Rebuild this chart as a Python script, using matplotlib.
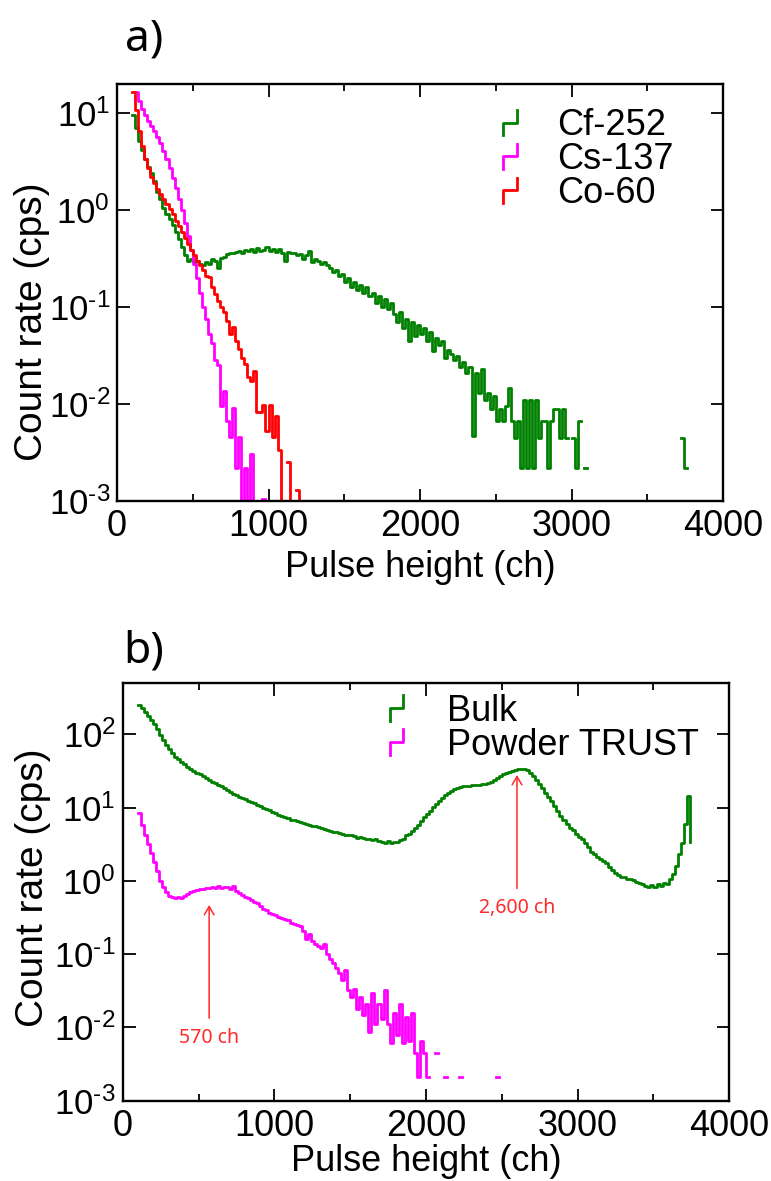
import numpy as np
import matplotlib
matplotlib.use('Agg')
import matplotlib.pyplot as plt
from matplotlib.lines import Line2D
from matplotlib.legend_handler import HandlerBase
from matplotlib.ticker import MultipleLocator, FuncFormatter, NullLocator, LogLocator

nan = np.nan

# ---------------- data (count rate in cps, 20-channel bins) ----------------
BIN = 20

# panel a
cf_start = 100
cf_rate = [9.6, 7.0, 5.2, 4.2, 3.4, 2.8, 2.4, 2.0, 1.55, 1.3,
           1.05, 0.92, 0.80, 0.70, 0.60, 0.50, 0.42, 0.34, 0.30, 0.31,
           0.29, 0.30, 0.28, 0.27, 0.29, 0.28, 0.31, 0.30, 0.25, 0.32,
           0.33, 0.35, 0.36, 0.36, 0.37, 0.38, 0.36, 0.39, 0.38, 0.40,
           0.37, 0.41, 0.38, 0.39, 0.42, 0.38, 0.40, 0.37, 0.40, 0.36,
           0.30, 0.37, 0.36, 0.36, 0.34, 0.35, 0.31, 0.34, 0.38, 0.29,
           0.31, 0.30, 0.28, 0.29, 0.27, 0.25, 0.23, 0.24, 0.21, 0.22,
           0.18, 0.20, 0.16, 0.18, 0.15, 0.17, 0.14, 0.16, 0.13, 0.14,
           0.11, 0.13, 0.10, 0.12, 0.095, 0.11, 0.085, 0.07, 0.088, 0.06,
           0.075, 0.045, 0.07, 0.05, 0.065, 0.052, 0.06, 0.045, 0.055, 0.035,
           0.048, 0.04, 0.045, 0.03, 0.036,
           0.033, 0.028, 0.031, 0.024, 0.027, 0.021, 0.024, 0.0046, 0.021, 0.013,
           0.023, 0.011, 0.013, 0.0088, 0.012, 0.0066, 0.0088, 0.0066, 0.0095, 0.0146,
           0.0066, 0.0044, 0.0066, 0.0022, 0.011, 0.0022, 0.011, 0.0022, 0.011, 0.0044,
           0.0066, 0.0066, 0.0022, 0.0066, 0.0088, 0.0088, 0.0044, 0.0088, 0.0044, nan,
           0.0044, 0.0022, 0.0066, nan, 0.0022]
cf_rate += [nan] * 31 + [0.0044, 0.0022, nan]

cs_start = 120
cs_rate = [16.5, 13.5, 11.0, 9.5, 8.4, 7.4, 6.6, 5.7, 4.9, 4.1,
           3.4, 2.7, 2.15, 1.7, 1.3, 1.0, 0.74, 0.54, 0.39, 0.28,
           0.20, 0.14, 0.10, 0.075, 0.052, 0.042, 0.028, 0.025, 0.0095, 0.0135,
           0.0066, 0.0045, 0.009, 0.0022, 0.0045, 0.0007, 0.0022, 0.0007, 0.003, 0.0007,
           nan, nan, 0.00105, nan]

co_start = 100
co_rate = [16.7, 10.8, 6.5, 4.6, 3.4, 2.7, 2.2, 1.9, 1.65, 1.45,
           1.3, 1.15, 1.02, 0.9, 0.78, 0.68, 0.6, 0.52, 0.45, 0.39,
           0.34, 0.30, 0.27, 0.24, 0.21, 0.205, 0.16, 0.135, 0.115, 0.10,
           0.088, 0.072, 0.052, 0.062, 0.045, 0.037, 0.03, 0.026, 0.019, 0.017,
           0.022, 0.0083, 0.0083, 0.0098, 0.0052, 0.0098, 0.0045, 0.0075, 0.0033, 0.0007,
           nan, 0.0025, 0.0007, nan, 0.0013, 0.0007, nan]

# panel b
bulk_start = 100
bulk_rate = [255, 230, 205, 180, 157, 138, 118, 98, 85, 73,
             64, 56, 50, 46, 42, 39, 36, 34, 32, 30,
             28.5, 27, 25.5, 24, 22.5, 21.5, 20.4, 19.5, 18.5, 17.5,
             16.5, 15.3, 14.8, 14.0, 13.5, 13.0, 12.4, 12.1, 11.5, 11.0,
             10.5, 10.0, 9.5, 9.2, 8.8, 8.4, 8.0, 7.7, 7.5, 7.2,
             6.9, 6.8, 6.5, 6.4, 6.2, 6.0, 5.9, 5.7, 5.6, 5.5,
             5.3, 5.1, 5.0, 4.8, 4.7, 4.6, 4.5, 4.4, 4.3, 4.25,
             4.2, 4.1, 3.9, 4.0, 3.85, 3.8, 3.75, 3.6, 3.7, 3.5,
             3.45, 3.35, 3.5, 3.3, 3.45, 3.4, 3.6, 3.8, 4.2, 4.4,
             4.8, 5.3, 5.9, 6.6, 7.4, 8.2, 9.1, 10.1, 11.2, 12.3,
             13.5, 14.8, 15.9, 16.8, 17.8, 18.5, 19.2, 19.5, 19.8, 20.0,
             20.3, 20.5, 20.7, 20.9, 21.2, 21.6, 22.5, 24.0, 25.5, 27.2,
             28.5, 29.8, 31.0, 32.0, 33.0, 33.5, 33.8, 33.6, 32.5, 30.0,
             27.0, 24.0, 21.0, 18.5, 16.0, 14.0, 12.3, 10.5, 9.0, 7.8,
             6.9, 6.0, 5.3, 4.9, 4.4, 4.0, 3.7, 3.3, 2.9, 2.5,
             2.3, 2.1, 2.0, 1.85, 1.75, 1.55, 1.4, 1.28, 1.22, 1.15,
             1.12, 1.08, 1.05, 1.02, 0.98, 0.95, 0.90, 0.86, 0.82, 0.88,
             0.84, 0.92, 0.86, 0.95, 0.90, 1.05, 1.25, 1.6, 2.3, 3.3,
             6.0, 14.5, 3.4]

powder_start = 100
powder_rate = [8.4, 5.8, 4.3, 3.2, 2.4, 1.8, 1.35, 1.0, 0.82, 0.70,
               0.62, 0.60, 0.58, 0.61, 0.58, 0.63, 0.66, 0.70, 0.73, 0.76,
               0.78, 0.77, 0.80, 0.79, 0.83, 0.80, 0.86, 0.80, 0.84, 0.82,
               0.78, 0.86, 0.72, 0.68, 0.64, 0.60, 0.58, 0.55, 0.52, 0.50,
               0.46, 0.42, 0.40, 0.37, 0.35, 0.34, 0.32, 0.31, 0.30, 0.29,
               0.27, 0.26, 0.25, 0.24, 0.21, 0.16, 0.19, 0.15, 0.14, 0.13,
               0.12, 0.14, 0.10, 0.085, 0.075, 0.065, 0.055, 0.045, 0.06, 0.032,
               0.026, 0.033, 0.018, 0.026, 0.015, 0.021, 0.0087, 0.030, 0.011, 0.021,
               0.013, 0.032, 0.011, 0.0061, 0.016, 0.008, 0.021, 0.0061, 0.014, 0.0066,
               0.016, 0.0045, 0.0021, 0.0066, 0.0045, 0.0021, nan, nan, 0.0045, nan,
               nan, 0.0021, nan, nan, nan, nan, 0.0021, nan, nan, nan,
               nan, nan, nan, nan, nan, nan, nan, nan, 0.0021, nan]

labels_a = ['Cf-252', 'Cs-137', 'Co-60']
labels_b = ['Bulk', 'Powder TRUST']
peak_channels = [570, 2600]
peak_labels = ['570 ch', '2,600 ch']

GREEN = '#008000'
MAGENTA = '#ff00ff'
RED = '#ff0000'
ANN = '#ff2a2a'

plt.rcParams['font.family'] = ['Liberation Sans', 'DejaVu Sans']
plt.rcParams['mathtext.fontset'] = 'custom'
plt.rcParams['mathtext.rm'] = 'Liberation Sans'
plt.rcParams['mathtext.it'] = 'Liberation Sans:italic'
plt.rcParams['mathtext.bf'] = 'Liberation Sans:bold'


class StepHandler(HandlerBase):
    def create_artists(self, legend, orig_handle, xdescent, ydescent,
                       width, height, fontsize, trans):
        x0 = -xdescent
        x1 = x0 + width
        y0 = -ydescent
        y1 = y0 + height
        ym = y0 + 0.5 * height
        ln = Line2D([x0, x0, x1, x1], [y0, ym, ym, y1],
                    color=orig_handle.get_color(),
                    lw=orig_handle.get_linewidth())
        ln.set_transform(trans)
        return [ln]


def bins(start, rate):
    return start + BIN * np.arange(len(rate))


def decade(v, p):
    e = int(round(np.log10(v)))
    if e < 0:
        return r'$\mathregular{10^{\text{-}%d}}$' % (-e)
    return r'$\mathregular{10^{%d}}$' % e


def style(ax, ymax, xlabelpad):
    ax.set_yscale('log')
    ax.set_xlim(0, 4000)
    ax.set_ylim(1e-3, ymax)
    ax.xaxis.set_major_locator(MultipleLocator(1000))
    ax.xaxis.set_minor_locator(MultipleLocator(500))
    ax.yaxis.set_major_locator(LogLocator(base=10))
    ax.yaxis.set_minor_locator(NullLocator())
    ax.yaxis.set_major_formatter(FuncFormatter(decade))
    ax.tick_params(which='both', direction='in', top=True, right=True,
                   width=1.3, color='black')
    ax.tick_params(which='major', length=9)
    ax.tick_params(which='minor', length=5)
    ax.tick_params(axis='x', labelsize=26, pad=6)
    ax.tick_params(axis='y', labelsize=25, pad=5)
    for s in ax.spines.values():
        s.set_linewidth(1.7)
    ax.set_xlabel('Pulse height (ch)', fontsize=26, labelpad=xlabelpad)
    ax.set_ylabel('Count rate (cps)', fontsize=28)


fig = plt.figure(figsize=(7.71, 11.81), dpi=100)
W, H = 771.0, 1181.0
axa = fig.add_axes([117 / W, (H - 500.7) / H, 606 / W, 416.7 / H])
axb = fig.add_axes([122.7 / W, (H - 1100.7) / H, 606.6 / W, 417.4 / H])

# ---- panel a
la = []
for start, rate, col in [(cf_start, cf_rate, GREEN), (cs_start, cs_rate, MAGENTA),
                         (co_start, co_rate, RED)]:
    l, = axa.plot(bins(start, rate), rate, drawstyle='steps-post', color=col, lw=2.0)
    la.append(l)
style(axa, 20, 4)
axa.yaxis.set_label_coords(-0.11, 0.43)
axa.legend(la, labels_a, loc='upper left', bbox_to_anchor=(0.637, 0.942),
           frameon=False, fontsize=26, handlelength=0.39, handleheight=0.7,
           handletextpad=1.1, labelspacing=-0.03, borderpad=0, borderaxespad=0,
           handler_map={Line2D: StepHandler()})

# ---- panel b
lb = []
for start, rate, col in [(bulk_start, bulk_rate, GREEN), (powder_start, powder_rate, MAGENTA)]:
    l, = axb.plot(bins(start, rate), rate, drawstyle='steps-post', color=col, lw=2.0)
    lb.append(l)
style(axb, 500, 0)
axb.yaxis.set_label_coords(-0.118, 0.51)
axb.legend(lb, labels_b, loc='upper left', bbox_to_anchor=(0.4407, 0.975),
           frameon=False, fontsize=26, handlelength=0.37, handleheight=0.7,
           handletextpad=1.2, labelspacing=-0.03, borderpad=0, borderaxespad=0,
           handler_map={Line2D: StepHandler()})

# annotations (arrow head y, arrow tail y, text y)
ann_pos = [(0.47, 0.0134, 0.0072), (28.0, 0.79, 0.43)]
for ch, txt, (yh, yt, ytx) in zip(peak_channels, peak_labels, ann_pos):
    axb.annotate('', xy=(ch, yh), xytext=(ch, yt),
                 arrowprops=dict(arrowstyle='->,head_length=0.6,head_width=0.35',
                                 color=ANN, lw=1.1, shrinkA=0, shrinkB=0))
    axb.text(ch, ytx, txt, color=ANN, fontsize=14, family=['Noto Sans', 'DejaVu Sans'],
             ha='center', va='center')

fig.text(125 / W, 1 - 50 / H, 'a)', fontsize=32, family=['Noto Sans', 'DejaVu Sans'],
         fontweight='light', ha='left', va='baseline')
fig.text(123 / W, 1 - 662 / H, 'b)', fontsize=32, family=['Noto Sans', 'DejaVu Sans'],
         fontweight='light', ha='left', va='baseline')

fig.savefig('out.png', dpi=100)
